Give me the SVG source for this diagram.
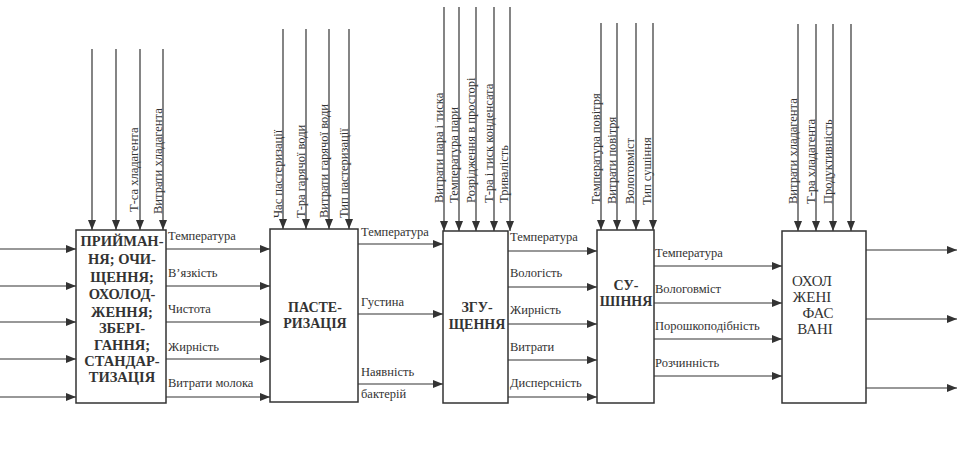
<svg xmlns="http://www.w3.org/2000/svg" width="969" height="468" viewBox="0 0 969 468">
<defs>
<marker id="ah" markerUnits="userSpaceOnUse" markerWidth="11" markerHeight="8" refX="10" refY="4" orient="auto">
<path d="M0,0 L10,4 L0,8 z" fill="#333"/>
</marker>
<style>
text{font-family:"Liberation Serif","Times New Roman","DejaVu Serif",serif;fill:#333}
.box{fill:#fff;stroke:#333;stroke-width:1.5}
.c{stroke:#333;stroke-width:1.2;fill:none;marker-end:url(#ah)}
.lb{font-size:12.5px}
.vl{font-size:12.5px}
.bt{font-size:14.5px;font-weight:bold;text-anchor:middle}
.bn{font-size:15px;text-anchor:middle}
</style>
</defs>
<rect width="969" height="468" fill="#fff"/>
<g id="connectors">
<line class="c" x1="0" y1="249" x2="76" y2="249"/>
<line class="c" x1="0" y1="286" x2="76" y2="286"/>
<line class="c" x1="0" y1="322" x2="76" y2="322"/>
<line class="c" x1="0" y1="359" x2="76" y2="359"/>
<line class="c" x1="0" y1="397" x2="76" y2="397"/>
<line class="c" x1="92" y1="49" x2="92" y2="230"/>
<line class="c" x1="116" y1="49" x2="116" y2="230"/>
<line class="c" x1="140" y1="49" x2="140" y2="230"/>
<line class="c" x1="163" y1="49" x2="163" y2="230"/>
<line class="c" x1="166" y1="249" x2="270" y2="249"/>
<line class="c" x1="166" y1="286" x2="270" y2="286"/>
<line class="c" x1="166" y1="322" x2="270" y2="322"/>
<line class="c" x1="166" y1="359" x2="270" y2="359"/>
<line class="c" x1="166" y1="397" x2="270" y2="397"/>
<line class="c" x1="283" y1="29" x2="283" y2="229"/>
<line class="c" x1="306" y1="29" x2="306" y2="229"/>
<line class="c" x1="329" y1="29" x2="329" y2="229"/>
<line class="c" x1="349" y1="29" x2="349" y2="229"/>
<line class="c" x1="358" y1="244" x2="443" y2="244"/>
<line class="c" x1="358" y1="314" x2="443" y2="314"/>
<line class="c" x1="358" y1="384" x2="443" y2="384"/>
<line class="c" x1="444" y1="7" x2="444" y2="231"/>
<line class="c" x1="459" y1="7" x2="459" y2="231"/>
<line class="c" x1="476" y1="7" x2="476" y2="231"/>
<line class="c" x1="494" y1="7" x2="494" y2="231"/>
<line class="c" x1="510" y1="7" x2="510" y2="231"/>
<line class="c" x1="508" y1="251" x2="597" y2="251"/>
<line class="c" x1="508" y1="287" x2="597" y2="287"/>
<line class="c" x1="508" y1="324" x2="597" y2="324"/>
<line class="c" x1="508" y1="360" x2="597" y2="360"/>
<line class="c" x1="508" y1="397" x2="597" y2="397"/>
<line class="c" x1="601" y1="23" x2="601" y2="230"/>
<line class="c" x1="617" y1="23" x2="617" y2="230"/>
<line class="c" x1="636" y1="23" x2="636" y2="230"/>
<line class="c" x1="653" y1="23" x2="653" y2="230"/>
<line class="c" x1="654" y1="266" x2="782" y2="266"/>
<line class="c" x1="654" y1="303" x2="782" y2="303"/>
<line class="c" x1="654" y1="339" x2="782" y2="339"/>
<line class="c" x1="654" y1="376" x2="782" y2="376"/>
<line class="c" x1="798" y1="24" x2="798" y2="231"/>
<line class="c" x1="816" y1="24" x2="816" y2="231"/>
<line class="c" x1="833" y1="24" x2="833" y2="231"/>
<line class="c" x1="851" y1="24" x2="851" y2="231"/>
<line class="c" x1="866" y1="250" x2="957" y2="250"/>
<line class="c" x1="866" y1="319" x2="957" y2="319"/>
<line class="c" x1="866" y1="388" x2="957" y2="388"/>
</g>
<g id="labels">
<text class="vl" transform="translate(138,212) rotate(-90)">Т-са хладагента</text>
<text class="vl" transform="translate(162,214) rotate(-90)">Витрати хладагента</text>
<text class="lb" x="168" y="240">Температура</text>
<text class="lb" x="168" y="277">В’язкість</text>
<text class="lb" x="168" y="313">Чистота</text>
<text class="lb" x="168" y="351">Жирність</text>
<text class="lb" x="168" y="387">Витрати молока</text>
<text class="vl" transform="translate(282,218) rotate(-90)">Час пастеризації</text>
<text class="vl" transform="translate(305,218) rotate(-90)">Т-ра гарячої води</text>
<text class="vl" transform="translate(328,218) rotate(-90)">Витрати гарячої води</text>
<text class="vl" transform="translate(348,218) rotate(-90)">Тип пастеризації</text>
<text class="lb" x="361" y="236">Температура</text>
<text class="lb" x="361" y="306">Густина</text>
<text class="lb" x="361" y="376">Наявність</text>
<text class="lb" x="361" y="398">бактерій</text>
<text class="vl" transform="translate(443,203) rotate(-90)">Витрати пара і тиска</text>
<text class="vl" transform="translate(458,203) rotate(-90)">Температура пари</text>
<text class="vl" transform="translate(475,203) rotate(-90)">Розрідження в просторі</text>
<text class="vl" transform="translate(493,203) rotate(-90)">Т-ра і тиск конденсата</text>
<text class="vl" transform="translate(508,203) rotate(-90)">Тривалість</text>
<text class="lb" x="510" y="241">Температура</text>
<text class="lb" x="510" y="277">Вологість</text>
<text class="lb" x="510" y="314">Жирність</text>
<text class="lb" x="510" y="351">Витрати</text>
<text class="lb" x="510" y="387">Дисперсність</text>
<text class="vl" transform="translate(600,204) rotate(-90)">Температура повітря</text>
<text class="vl" transform="translate(616,204) rotate(-90)">Витрати повітря</text>
<text class="vl" transform="translate(634,204) rotate(-90)">Вологовміст</text>
<text class="vl" transform="translate(651,205) rotate(-90)">Тип сушіння</text>
<text class="lb" x="655" y="257">Температура</text>
<text class="lb" x="655" y="293">Вологовміст</text>
<text class="lb" x="655" y="330">Порошкоподібність</text>
<text class="lb" x="655" y="367">Розчинність</text>
<text class="vl" transform="translate(797,204) rotate(-90)">Витрати хладагента</text>
<text class="vl" transform="translate(815,204) rotate(-90)">Т-ра хладагента</text>
<text class="vl" transform="translate(832,204) rotate(-90)">Продуктивність</text>
</g>
<g id="node1">
<rect class="box" x="76" y="230" width="90" height="173"/>
<text class="bt" x="122" y="246">ПРИЙМАН-</text>
<text class="bt" x="122" y="264">НЯ; ОЧИ-</text>
<text class="bt" x="122" y="282">ЩЕННЯ;</text>
<text class="bt" x="122" y="299">ОХОЛОД-</text>
<text class="bt" x="122" y="317">ЖЕННЯ;</text>
<text class="bt" x="122" y="333">ЗБЕРІ-</text>
<text class="bt" x="122" y="350">ГАННЯ;</text>
<text class="bt" x="122" y="366">СТАНДАР-</text>
<text class="bt" x="122" y="382">ТИЗАЦІЯ</text>
</g>
<g id="node2">
<rect class="box" x="270" y="229" width="88" height="173"/>
<text class="bt" x="315" y="312" style="font-size:14px">ПАСТЕ-</text>
<text class="bt" x="315" y="328" style="font-size:14px">РИЗАЦІЯ</text>
</g>
<g id="node3">
<rect class="box" x="443" y="231" width="65" height="172"/>
<text class="bt" x="477" y="312" style="font-size:14px">ЗГУ-</text>
<text class="bt" x="477" y="329" style="font-size:14px">ЩЕННЯ</text>
</g>
<g id="node4">
<rect class="box" x="597" y="230" width="57" height="173"/>
<text class="bt" x="626" y="290" style="font-size:14px">СУ-</text>
<text class="bt" x="626" y="306" style="font-size:14px">ШІННЯ</text>
</g>
<g id="node5">
<rect class="box" x="782" y="231" width="84" height="172"/>
<text class="bn" x="812" y="286">ОХОЛ</text>
<text class="bn" x="812" y="302">ЖЕНІ</text>
<text class="bn" x="818" y="318">ФАС</text>
<text class="bn" x="815" y="334">ВАНІ</text>
</g>
</svg>
